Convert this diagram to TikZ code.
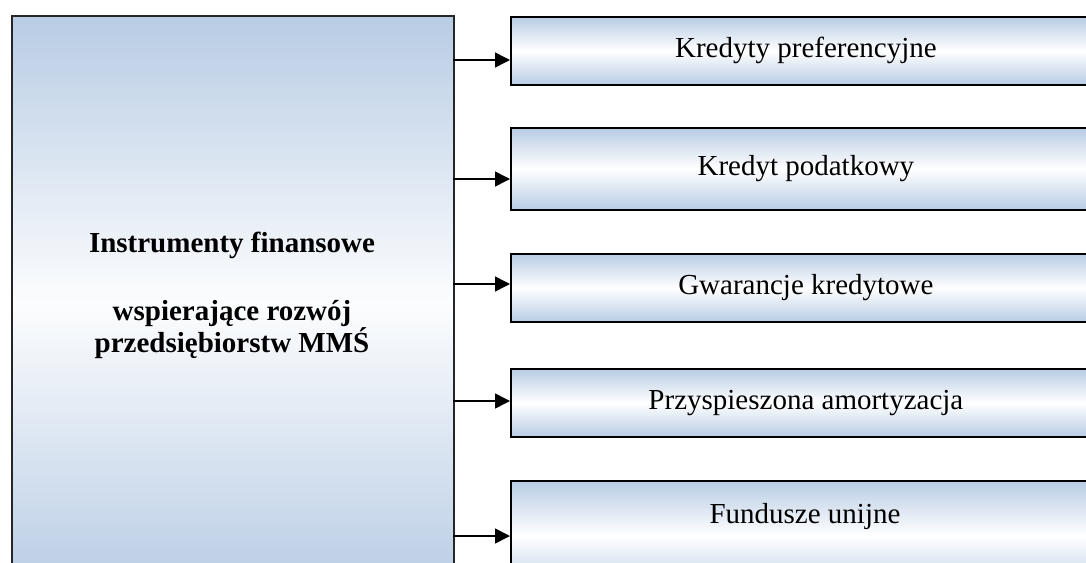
\documentclass[tikz,border=0pt]{standalone}
\usepackage{fontspec}
\setmainfont{Liberation Serif}
\usetikzlibrary{arrows.meta}
\definecolor{boxblue}{HTML}{B8CCE4}
\begin{document}
\begin{tikzpicture}[x=1pt,y=-1pt,
  mainbox/.style={draw=black!85,line width=1.6pt,top color=boxblue,bottom color=boxblue,middle color=white!96!boxblue,inner sep=0pt},
  itembox/.style={draw=black,line width=1.8pt,top color=boxblue,bottom color=boxblue,middle color=white,inner sep=0pt,font=\fontsize{29}{33}\selectfont},
  lbl/.style={font=\fontsize{29}{33}\selectfont,inner sep=0pt},
  mainlbl/.style={font=\fontsize{29}{33}\selectfont\bfseries,inner sep=0pt,anchor=base},
  arr/.style={line width=1.5pt,-{Triangle[length=15pt,width=15pt]}}]
\useasboundingbox (0,0) rectangle (1086,562);
\clip (0,0) rectangle (1086,562);

% left block
\node[mainbox,minimum width=442pt,minimum height=575pt,anchor=north west] (main) at (11,15) {};
\node[mainlbl] (t1) at (232,252) {Instrumenty finansowe};
\node[mainlbl] (t2) at (232,320) {wspierające rozwój};
\node[mainlbl] (t3) at (232,352) {przedsiębiorstw MMŚ};

% instrument boxes
\node[itembox,minimum width=590pt,minimum height=68pt,anchor=north west] (b1) at (510,16) {Kredyty preferencyjne};
\node[itembox,minimum width=590pt,minimum height=82pt,anchor=north west] (b2) at (510,127) {Kredyt podatkowy};
\node[itembox,minimum width=590pt,minimum height=68pt,anchor=north west] (b3) at (510,253) {Gwarancje kredytowe};
\node[itembox,minimum width=590pt,minimum height=68pt,anchor=north west] (b4) at (510,368) {Przyspieszona amortyzacja};
\node[itembox,minimum width=590pt,minimum height=110pt,anchor=north west] (b5) at (510,480) {};
\node[lbl] (l5) at (805,517) {Fundusze unijne};

% arrow start points on the left block
\coordinate (s1) at (453,60);
\coordinate (s2) at (453,179);
\coordinate (s3) at (453,284);
\coordinate (s4) at (453,401);
\coordinate (s5) at (453,536);
\foreach \i in {1,...,5}{
  \draw[arr] (s\i) -- (s\i -| b\i.west);
}
\end{tikzpicture}
\end{document}
